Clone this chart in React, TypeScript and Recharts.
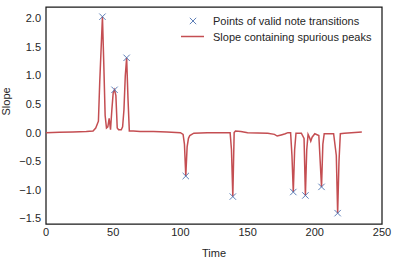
import { ComposedChart, Line, Scatter, XAxis, YAxis, ReferenceArea } from 'recharts';

// slope curve (time, slope)
const slopeTime = [0, 10, 20, 30, 35, 37, 39, 40, 42, 43, 44, 45, 46, 47, 48, 49, 50, 51, 52, 53, 54, 56, 57, 58, 59, 60, 61, 62, 65, 70, 80, 90, 100, 102, 103, 104, 105, 106, 107, 110, 120, 137, 138, 139, 140, 141, 145, 150, 165, 170, 172, 175, 178, 180, 182, 183, 184, 185, 186, 190, 192, 193, 194, 195, 196, 197, 198, 200, 203, 204, 205, 206, 207, 214, 216, 217, 218, 219, 222, 235];
const slopeValue = [0.0, 0.005, 0.01, 0.02, 0.03, 0.08, 0.2, 0.9, 2.03, 1.2, 0.3, 0.08, 0.1, 0.25, 0.05, 0.4, 0.7, 0.75, 0.65, 0.08, 0.05, 0.05, 0.1, 0.4, 1.0, 1.31, 0.6, 0.03, 0.03, 0.02, 0.02, 0.01, 0.0, -0.03, -0.2, -0.76, -0.25, -0.1, -0.05, -0.01, 0.0, 0.0, -0.3, -1.12, 0.0, 0.03, 0.02, 0.0, -0.01, -0.03, -0.06, -0.04, -0.02, 0.0, 0.0, -0.4, -1.04, -0.3, -0.01, -0.01, -0.1, -1.1, -0.3, -0.03, -0.08, -0.15, -0.08, -0.02, -0.05, -0.5, -0.95, -0.2, -0.02, -0.02, -0.4, -1.41, -0.5, -0.02, -0.01, 0.01];

// valid note transitions
const noteTime = [42, 51, 60, 104, 139, 184, 193, 205, 217];
const noteValue = [2.03, 0.75, 1.31, -0.76, -1.12, -1.04, -1.1, -0.95, -1.41];

const xTicks = [0, 50, 100, 150, 200, 250];
const yTicks = [-1.5, -1.0, -0.5, 0.0, 0.5, 1.0, 1.5, 2.0];

const lineColor = '#C44E52';
const markColor = '#4C72B0';
const textColor = '#262626';

const slopeData = slopeTime.map((t, i) => ({ time: t, slope: slopeValue[i] }));
const noteData = noteTime.map((t, i) => ({ time: t, slope: noteValue[i] }));

const XMark = (props: any) => {
  const { cx, cy } = props;
  const s = 3.2;
  return (
    <g stroke={markColor} strokeWidth={0.9}>
      <line x1={cx - s} y1={cy - s} x2={cx + s} y2={cy + s} />
      <line x1={cx - s} y1={cy + s} x2={cx + s} y2={cy - s} />
    </g>
  );
};

// legend drawn over the upper right of the plot, like matplotlib's 'best' location
const LegendBox = () => (
  <svg width={200} height={40} style={{ position: 'absolute', left: 180, top: 10, overflow: 'visible' }}>
    <g stroke={markColor} strokeWidth={0.9}>
      <line x1={9.8} y1={7.8} x2={16.2} y2={14.2} />
      <line x1={9.8} y1={14.2} x2={16.2} y2={7.8} />
    </g>
    <text x={33} y={15} fontSize={11} fill={textColor}>Points of valid note transitions</text>
    <line x1={1} y1={26.5} x2={24} y2={26.5} stroke={lineColor} strokeWidth={1.5} />
    <text x={33} y={31} fontSize={11} fill={textColor}>Slope containing spurious peaks</text>
  </svg>
);

export default function App() {
  return (
    <div style={{ position: 'absolute', left: 0, top: 0, width: 397, height: 259, background: '#fff', fontFamily: '"Liberation Sans", Arial, sans-serif' }}>
      <ComposedChart width={397} height={259} margin={{ top: 7, right: 15, bottom: 0, left: 0 }}>
        <XAxis
          dataKey="time"
          type="number"
          domain={[0, 250]}
          ticks={xTicks}
          height={35}
          tickSize={0}
          tickMargin={4}
          axisLine={false}
          tick={{ fontSize: 11, fill: textColor }}
          label={{ value: 'Time', position: 'insideBottom', offset: 2, fontSize: 11, fill: textColor }}
        />
        <YAxis
          dataKey="slope"
          type="number"
          domain={[-1.6, 2.2]}
          ticks={yTicks}
          width={46}
          tickSize={0}
          tickMargin={5}
          axisLine={false}
          tickFormatter={(v: number) => (v < 0 ? '\u2212' + Math.abs(v).toFixed(1) : v.toFixed(1))}
          tick={{ fontSize: 11, fill: textColor }}
          label={{ value: 'Slope', angle: -90, position: 'insideLeft', offset: 6, fontSize: 11, fill: textColor }}
        />
        <ReferenceArea x1={0} x2={250} y1={-1.6} y2={2.2} fill="none" stroke="#1a1a1a" strokeWidth={1.25} />
        <Line
          data={slopeData}
          dataKey="slope"
          type="linear"
          stroke={lineColor}
          strokeWidth={1.5}
          dot={false}
          isAnimationActive={false}
        />
        <Scatter data={noteData} dataKey="slope" shape={<XMark />} isAnimationActive={false} />
      </ComposedChart>
      <LegendBox />
    </div>
  );
}
